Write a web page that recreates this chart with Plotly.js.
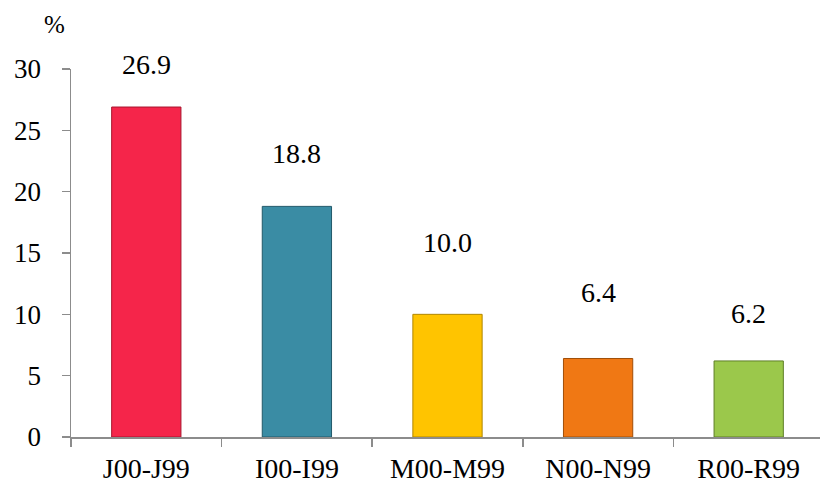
<!DOCTYPE html>
<html>
<head>
<meta charset="utf-8">
<script src="https://cdn.plot.ly/plotly-3.0.1.min.js"></script>
<style>html,body{margin:0;padding:0;background:#fff;}#chart{width:820px;height:483px;}</style>
</head>
<body>
<div id="chart"></div>
<script>
// Data
const categories = ["J00-J99", "I00-I99", "M00-M99", "N00-N99", "R00-R99"];
const values = [26.9, 18.8, 10.0, 6.4, 6.2];
const valueLabels = ["26.9", "18.8", "10.0", "6.4", "6.2"];
const yTickVals = [0, 5, 10, 15, 20, 25, 30];

// Styles
const barColors = ["#F5254A", "#3A8CA4", "#FFC400", "#F07814", "#9BC84B"];
const barEdges = ["#A8152E", "#22596A", "#B08600", "#A04E08", "#5E7F26"];
const labelShift = [43, 53, 72, 66, 47];
const font = "Liberation Serif";

const trace = {
  type: "bar",
  x: categories,
  y: values,
  marker: {color: barColors, line: {color: barEdges, width: 1}},
  hoverinfo: "none"
};

const annotations = categories.map((c, i) => ({
  x: c, y: values[i], xref: "x", yref: "y",
  text: valueLabels[i], showarrow: false,
  yanchor: "middle", yshift: labelShift[i],
  font: {family: font, size: 28, color: "#000"}
}));
annotations.push({
  x: (54 - 71) / 752, y: (437 - 24) / 368, xref: "paper", yref: "paper", text: "%",
  xanchor: "center", yanchor: "middle",
  showarrow: false, font: {family: font, size: 25, color: "#000"}
});

const layout = {
  width: 820, height: 483,
  margin: {l: 71, r: 0, t: 69, b: 46},
  paper_bgcolor: "#fff", plot_bgcolor: "#fff",
  showlegend: false,
  bargap: 0.54,
  font: {family: font, size: 27, color: "#000"},
  xaxis: {
    type: "category",
    range: [-0.5, 749 / 150.6 - 0.5],
    autorange: false,
    showline: true, linecolor: "#8c8c8c", linewidth: 1.5,
    ticks: "outside", tickson: "boundaries", ticklen: 8, tickcolor: "#8c8c8c", tickwidth: 1.5,
    showgrid: false, zeroline: false,
    ticklabelstandoff: 6,
    tickfont: {family: font, size: 28, color: "#000"},
    automargin: false
  },
  yaxis: {
    range: [0, 30], autorange: false,
    tickvals: yTickVals, ticktext: yTickVals.map(String),
    showline: true, linecolor: "#8c8c8c", linewidth: 1.5,
    ticks: "outside", ticklen: 8, tickcolor: "#8c8c8c", tickwidth: 1.5,
    showgrid: false, zeroline: false,
    ticklabelstandoff: 15,
    tickfont: {family: font, size: 27, color: "#000"},
    automargin: false
  },
  annotations: annotations
};

Plotly.newPlot("chart", [trace], layout, {displayModeBar: false, staticPlot: true});
</script>
</body>
</html>
